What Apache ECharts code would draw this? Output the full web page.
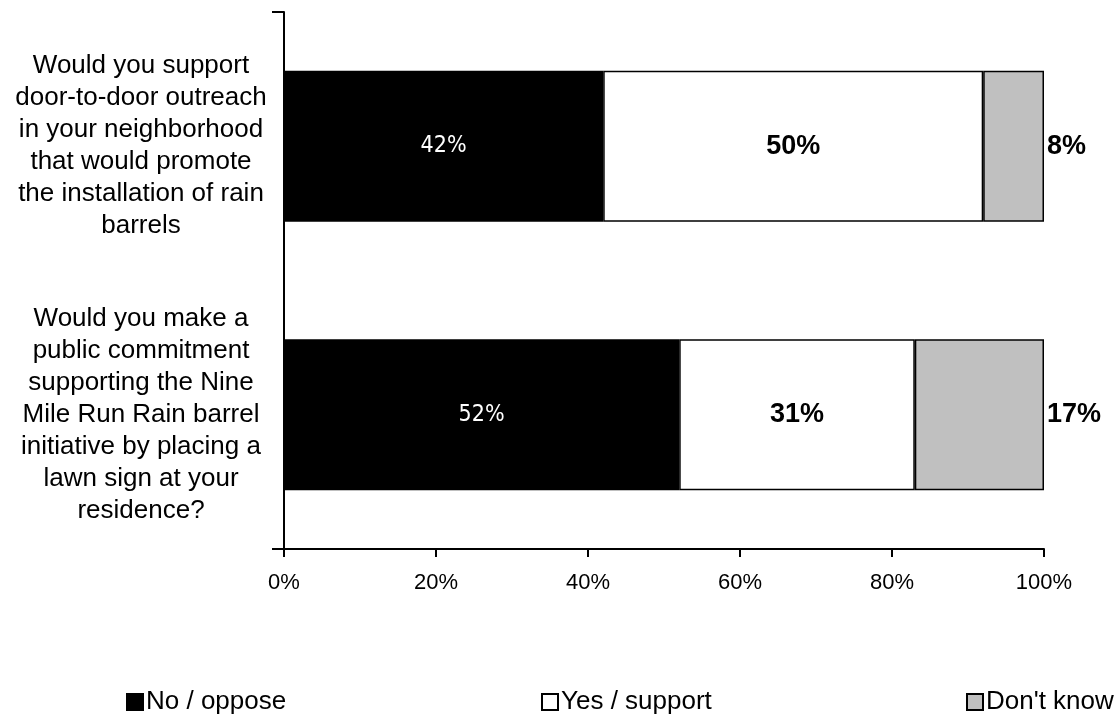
<!DOCTYPE html>
<html><head><meta charset="utf-8">
<script src="https://cdn.jsdelivr.net/npm/echarts@6/dist/echarts.min.js"></script>
<style>html,body{margin:0;padding:0;background:#fff}#c{width:1117px;height:717px}</style>
</head><body><div id="c"></div>
<script>
const categories = [
  "Would you support\ndoor-to-door outreach\nin your neighborhood\nthat would promote\nthe installation of rain\nbarrels",
  "Would you make a\npublic commitment\nsupporting the Nine\nMile Run Rain barrel\ninitiative by placing a\nlawn sign at your\nresidence?"
];
const seriesNames = ["No / oppose", "Yes / support", "Don't know"];
const noOppose = [42, 52];
const yesSupport = [50, 31];
const dontKnow = [8, 17];
const xTicks = [0, 20, 40, 60, 80, 100];

const font = "Liberation Sans, Arial, sans-serif";
const chart = echarts.init(document.getElementById('c'), null, {renderer: 'canvas'});
const bw = 151;
chart.setOption({
  animation: false,
  backgroundColor: '#fff',
  grid: {left: 284, right: 73, top: 12, bottom: 168},
  xAxis: {
    type: 'value', min: xTicks[0], max: xTicks[xTicks.length - 1], interval: xTicks[1] - xTicks[0],
    axisLine: {show: true, lineStyle: {color: '#000', width: 2}},
    axisTick: {show: true, length: 8, lineStyle: {color: '#000', width: 2}},
    splitLine: {show: false},
    axisLabel: {formatter: v => v + '%', color: '#000', fontSize: 22, fontFamily: font, margin: 23}
  },
  yAxis: {
    type: 'category', data: categories, inverse: true,
    axisLine: {show: true, lineStyle: {color: '#000', width: 2}},
    axisTick: {show: true, length: 12, lineStyle: {color: '#000', width: 2}, interval: (i) => i !== 1},
    axisLabel: {color: '#000', fontSize: 26, fontFamily: font, align: 'center', margin: 143, lineHeight: 32}
  },
  legend: [
    {data: [seriesNames[0]], left: 121, top: 684},
    {data: [seriesNames[1]], left: 536, top: 684},
    {data: [seriesNames[2]], left: 961, top: 684}
  ].map(l => Object.assign(l, {icon: 'rect', itemWidth: 16, itemHeight: 16, itemGap: 4,
      textStyle: {color: '#000', fontSize: 26, fontFamily: font, padding: [0,0,0,-2]}})),
  series: [
    {name: seriesNames[0], type: 'bar', stack: 's', data: noOppose, barWidth: bw,
     itemStyle: {color: '#000', borderColor: '#000', borderWidth: 1.5},
     label: {show: true, position: 'inside', formatter: '{c}%', color: '#fff', fontSize: 23,
       fontFamily: 'DejaVu Sans Condensed'}},
    {name: seriesNames[1], type: 'bar', stack: 's', data: yesSupport, barWidth: bw,
     itemStyle: {color: '#fff', borderColor: '#000', borderWidth: 1.5},
     label: {show: true, position: 'inside', formatter: '{c}%', color: '#000', fontSize: 27, fontWeight: 'bold', fontFamily: font}},
    {name: seriesNames[2], type: 'bar', stack: 's', data: dontKnow, barWidth: bw,
     itemStyle: {color: '#c0c0c0', borderColor: '#000', borderWidth: 1.5},
     label: {show: true, position: 'right', distance: 3, formatter: '{c}%', color: '#000', fontSize: 27, fontWeight: 'bold', fontFamily: font}}
  ]
});
</script></body></html>
